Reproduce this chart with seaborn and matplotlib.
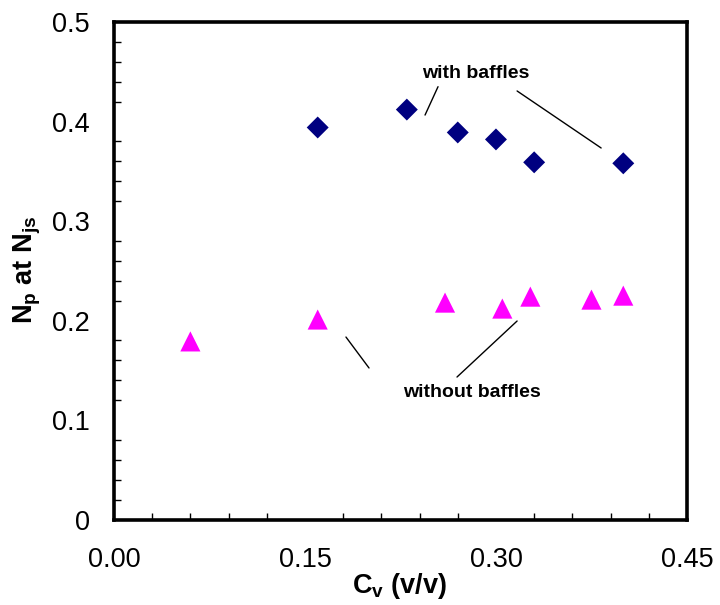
import matplotlib
matplotlib.use("Agg")
import matplotlib.pyplot as plt
from matplotlib.ticker import MultipleLocator, FormatStrFormatter
import seaborn as sns
import pandas as pd

# data
cv_with = [0.16, 0.23, 0.27, 0.30, 0.33, 0.40]
np_with = [0.394, 0.412, 0.389, 0.382, 0.359, 0.358]
cv_without = [0.06, 0.16, 0.26, 0.305, 0.327, 0.375, 0.40]
np_without = [0.179, 0.201, 0.218, 0.212, 0.224, 0.221, 0.225]
x_ticks = [0.00, 0.15, 0.30, 0.45]
y_ticks = [0, 0.1, 0.2, 0.3, 0.4, 0.5]
y_tick_labels = ["0", "0.1", "0.2", "0.3", "0.4", "0.5"]

df_with = pd.DataFrame({"Cv": cv_with, "Np": np_with})
df_without = pd.DataFrame({"Cv": cv_without, "Np": np_without})

sns.set_style("white")
plt.rcParams['font.family'] = ['Liberation Sans', 'DejaVu Sans']
plt.rcParams['text.color'] = 'black'
plt.rcParams['axes.labelcolor'] = 'black'
plt.rcParams['mathtext.fontset'] = 'custom'
plt.rcParams['mathtext.rm'] = 'Liberation Sans'
plt.rcParams['mathtext.bf'] = 'Liberation Sans:bold'
plt.rcParams['mathtext.it'] = 'Liberation Sans:italic'

fig = plt.figure(figsize=(7.2, 6.05), dpi=100)
ax = fig.add_axes([0.1583, 0.1413, 0.7958, 0.8223])

sns.scatterplot(data=df_with, x="Cv", y="Np", marker="D", s=125, color="#000080",
                edgecolor="none", ax=ax, zorder=3)
sns.scatterplot(data=df_without, x="Cv", y="Np", marker="^", s=210, color="#FF00FF",
                edgecolor="none", ax=ax, zorder=3)

ax.set_xlim(0, 0.45)
ax.set_ylim(0, 0.5)
ax.set_xticks(x_ticks)
ax.set_yticks(y_ticks)
ax.xaxis.set_major_formatter(FormatStrFormatter('%.2f'))
ax.set_yticklabels(y_tick_labels)
ax.xaxis.set_minor_locator(MultipleLocator(0.03))
ax.yaxis.set_minor_locator(MultipleLocator(0.02))

ax.tick_params(axis='both', which='major', labelsize=19.5, width=1,
               color='black', labelcolor='black')
ax.tick_params(axis='x', which='major', direction='inout', length=11.5, pad=14)
ax.tick_params(axis='y', which='major', direction='out', length=6.5, pad=11)
ax.tick_params(axis='both', which='minor', direction='in', length=5, width=1,
               color='black', bottom=True, left=True)

for sp in ax.spines.values():
    sp.set_visible(True)
    sp.set_color('black')
    sp.set_linewidth(2.6)

ax.set_xlabel(r'$\mathbf{C_v\ (v/v)}$', fontsize=19.5, color='black')
ax.xaxis.set_label_coords(0.499, -0.1336)
ax.xaxis.label.set_va('center')
ax.set_ylabel(r'$\mathbf{N_p\ at\ N_{js}}$', fontsize=19.5, color='black')
ax.yaxis.set_label_coords(-0.151, 0.5015)
ax.yaxis.label.set_va('center')

# annotations
ax.text(0.2844, 0.4487, "with baffles", fontsize=14, fontweight='bold',
        ha='center', va='center', color='black')
ax.plot([0.2545, 0.2443], [0.435, 0.4065], color='black', lw=1)
ax.plot([0.3166, 0.3826], [0.4307, 0.3734], color='black', lw=1)
ax.text(0.2812, 0.1281, "without baffles", fontsize=14, fontweight='bold',
        ha='center', va='center', color='black')
ax.plot([0.1822, 0.2003], [0.1834, 0.1523], color='black', lw=1)
ax.plot([0.3166, 0.2694], [0.1995, 0.1432], color='black', lw=1)

fig.savefig("out.png", dpi=100)
